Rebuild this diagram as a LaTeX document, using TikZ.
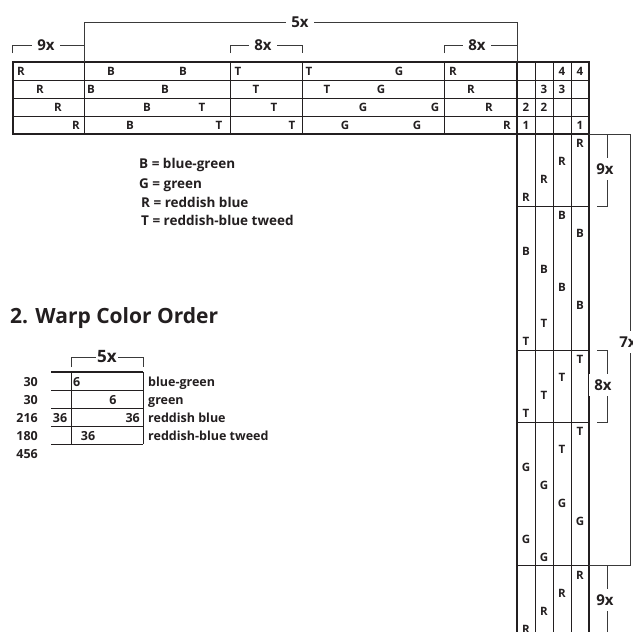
\documentclass[tikz,border=0pt]{standalone}
\usepackage{fontspec}
\setmainfont{Open Sans}
\definecolor{ink}{HTML}{231F20}
\definecolor{rule}{HTML}{3A3A3A}
\begin{document}
\begin{tikzpicture}[x=1pt,y=-1pt,
  thingrid/.style={draw=ink,line width=1pt},
  thickgrid/.style={draw=ink,line width=2.5pt,line cap=rect,line join=miter},
  brkline/.style={draw=rule,line width=0.9pt},
  cell/.style={text=ink,inner sep=0pt,font=\bfseries\fontsize{11.5}{12}\selectfont},
  brk/.style={text=ink,fill=white,inner xsep=5pt,inner ysep=6pt,font=\bfseries\fontsize{15}{15}\selectfont},
  legend/.style={text=ink,inner sep=0pt,anchor=base west,font=\bfseries\fontsize{13.5}{14}\selectfont},
  warp/.style={text=ink,inner sep=0pt,font=\bfseries\fontsize{12.5}{13}\selectfont},
  title/.style={text=ink,inner sep=0pt,anchor=base west,font=\bfseries\fontsize{21}{23}\selectfont}
]
\useasboundingbox (0,0) rectangle (633,632);
\clip (0,0) rectangle (633,632);
\fill[white] (0,0) rectangle (633,632);

% ---------- threading / tie-up / treadling grid ----------
\foreach \yy in {80,98,116} \draw[thingrid] (13,\yy) -- (589,\yy);
\foreach \xx in {230,302,444} \draw[thingrid] (\xx,62) -- (\xx,134);
\draw[thingrid] (84,62) -- (84,134);
\foreach \xx in {535,553,571} \draw[thingrid] (\xx,62) -- (\xx,640);
\foreach \yy in {206,350,422,565} \draw[thingrid] (517,\yy) -- (589,\yy);
\draw[thickgrid] (13,62) rectangle (517,134);
\draw[thickgrid] (517,640) -- (517,62) -- (589,62) -- (589,640);
\draw[thickgrid] (517,134) -- (589,134);

% ---------- top brackets ----------
\draw[brkline] (84,62) -- (84,22) -- (517,22) -- (517,62);
\node[brk] (t5x) at (300,22) {5x};
\draw[brkline] (12,53) -- (12,45) -- (84,45);
\node[brk] (t9x) at (46,45) {9x};
\draw[brkline] (230,53) -- (230,45) -- (302,45) -- (302,53);
\node[brk] (t8xa) at (263,45) {8x};
\draw[brkline] (444,53) -- (444,45) -- (517,45);
\node[brk] (t8xb) at (477,45) {8x};

% ---------- right brackets ----------
\draw[brkline] (589,134) -- (630,134) -- (630,565) -- (589,565);
\node[brk] (r7x) at (628,342) {7x};
\draw[brkline] (607,134) -- (607,206) -- (597,206);
\node[brk] (r9xa) at (605,169) {9x};
\draw[brkline] (597,350) -- (607,350) -- (607,422) -- (597,422);
\node[brk] (r8x) at (603,385) {8x};
\draw[brkline] (607,566) -- (607,640);
\node[brk] (r9xb) at (605,600) {9x};

% ---------- threading letters ----------
\foreach \xx/\r/\t [count=\i] in {
  21/1/R,40/2/R,58/3/R,76/4/R,
  111/1/B,183/1/B,91/2/B,165/2/B,147/3/B,202/3/T,130/4/B,219/4/T,
  238/1/T,256/2/T,274/3/T,292/4/T,
  309/1/T,399/1/G,327/2/T,381/2/G,363/3/G,435/3/G,345/4/G,417/4/G,
  453/1/R,471/2/R,489/3/R,507/4/R}
  \node[cell] (th\i) at (\xx,{62+18*(\r-0.5)}) {\t};

% ---------- tie-up ----------
\foreach \c/\r/\t [count=\i] in {3/1/4,4/1/4,2/2/3,3/2/3,1/3/2,2/3/2,1/4/1,4/4/1}
  \node[cell] (tu\i) at ({517+18*(\c-0.5)},{62+18*(\r-0.5)}) {\t};

% ---------- treadling ----------
\foreach \c/\r/\t [count=\i] in {
  4/1/R,3/2/R,2/3/R,1/4/R,
  3/5/B,4/6/B,1/7/B,2/8/B,3/9/B,4/10/B,2/11/T,1/12/T,
  4/13/T,3/14/T,2/15/T,1/16/T,
  4/17/T,3/18/T,1/19/G,2/20/G,3/21/G,4/22/G,1/23/G,2/24/G,
  4/25/R,3/26/R,2/27/R,1/28/R}
  \node[cell] (tr\i) at ({517+18*(\c-0.5)},{134+18*(\r-0.5)}) {\t};

% ---------- legend ----------
\node[legend] (lgB) at (139,168) {B = blue-green};
\node[legend] (lgG) at (139,188) {G = green};
\node[legend] (lgR) at (141,207) {R = reddish blue};
\node[legend] (lgT) at (141,225) {T = reddish-blue tweed};

% ---------- title ----------
\node[title] (ttl) at (10,323) {2. Warp Color Order};

% ---------- warp color order table ----------
\draw[brkline] (71,367) -- (71,357) -- (143,357) -- (143,367);
\node[brk,inner xsep=1.5pt,font=\bfseries\fontsize{17}{17}\selectfont] (w5x) at (107,357) {5x};
\draw[ink,line width=2.5pt] (51,372) -- (143,372);
\foreach \yy in {390,408,426,444} \draw[thingrid] (51,\yy) -- (143,\yy);
\draw[thingrid] (71,372) -- (71,444);
\draw[thingrid] (143,372) -- (143,444);
\foreach \t/\yy [count=\i] in {30/386,30/404,216/422,180/440,456/458}
  \node[warp,anchor=base east] (wn\i) at (38,\yy) {\t};
\node[warp,anchor=base west] (wc1) at (73,386) {6};
\node[warp,anchor=base] (wc2) at (113,404) {6};
\node[warp,anchor=base] (wc3) at (60,422) {36};
\node[warp,anchor=base east] (wc4) at (140,422) {36};
\node[warp,anchor=base] (wc5) at (88,440) {36};
\foreach \t/\yy [count=\i] in {blue-green/386,green/404,reddish blue/422,reddish-blue tweed/440}
  \node[warp,anchor=base west] (wd\i) at (148,\yy) {\t};
\end{tikzpicture}
\end{document}
